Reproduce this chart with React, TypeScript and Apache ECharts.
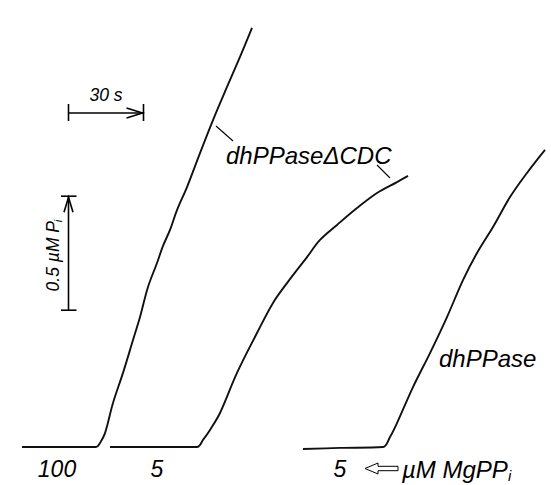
import React, { useEffect, useRef } from "react";
import * as echarts from "echarts";

// time (s) and product (µM Pi)
const T_CDC100 = [0.8, 30.4, 32, 34, 37.2, 41.2, 45.2, 48, 51.2, 54.8, 57.2, 60, 62.8, 66.8, 72, 77.2, 82.8, 88, 92.8];
const P_CDC100 = [0, 0, 0.018, 0.061, 0.193, 0.325, 0.469, 0.57, 0.702, 0.807, 0.882, 0.952, 1.039, 1.14, 1.289, 1.434, 1.579, 1.711, 1.838];

const T_CDC5 = [36, 70.8, 73.2, 76, 80, 86.8, 94.8, 101.2, 106.8, 114.8, 120, 126.8, 134.8, 142.8, 150.8, 155.2];
const P_CDC5 = [0, 0, 0.031, 0.075, 0.149, 0.325, 0.5, 0.632, 0.719, 0.833, 0.908, 0.974, 1.048, 1.114, 1.162, 1.189];

const T_WT5 = [113.2, 128, 145.2, 148, 150.8, 157.2, 164, 170.8, 177.2, 182.8, 189.2, 196, 202.8, 210];
const P_WT5 = [-0.009, -0.004, 0, 0.044, 0.105, 0.263, 0.412, 0.57, 0.732, 0.851, 0.965, 1.096, 1.202, 1.303];

// scale bars (data units)
const SCALE_T0 = 19.4;
const SCALE_T_LEN = 30;
const SCALE_H_Y = 1.465;
const SCALE_V_Y0 = 0.6;
const SCALE_V_LEN = 0.5;

const CONC_LABELS = ["100", "5", "5"];
const CURVE_NAMES = ["dhPPase\u0394CDC", "dhPPase"];

const FONT = '"Liberation Sans", Arial, Helvetica, sans-serif';

export default function App() {
  const ref = useRef<HTMLDivElement>(null);
  useEffect(() => {
    const chart = echarts.init(ref.current!, null, { renderer: "svg" });
    const zip = (t: number[], p: number[]) => t.map((v, i) => [v, p[i]]);
    const line = (name: string, data: number[][]) => ({
      type: "line",
      name,
      data,
      showSymbol: false,
      symbol: "none",
      smooth: 0.35,
      lineStyle: { color: "#111", width: 1.9 },
      silent: true,
    });
    chart.setOption({
      animation: false,
      backgroundColor: "#fff",
      grid: { left: 20, right: 6, top: 13.8, bottom: 26.6 },
      xAxis: { type: "value", min: 0, max: 210, show: false },
      yAxis: { type: "value", min: -0.05, max: 1.9, show: false },
      series: [
        line("CDC100", zip(T_CDC100, P_CDC100)),
        line("CDC5", zip(T_CDC5, P_CDC5)),
        line("WT5", zip(T_WT5, P_WT5)),
      ],
    });

    const px = (t: number, y: number) => chart.convertToPixel({ gridIndex: 0 }, [t, y]) as number[];
    const stroke = { stroke: "#000", lineWidth: 1.6, fill: null };
    const h0 = px(SCALE_T0, SCALE_H_Y);
    const h1 = px(SCALE_T0 + SCALE_T_LEN, SCALE_H_Y);
    const v0 = px(SCALE_T0, SCALE_V_Y0);
    const v1 = px(SCALE_T0, SCALE_V_Y0 + SCALE_V_LEN);
    const txt = (x: number, y: number, text: string, size: number, align = "left", extra: any = {}) => ({
      type: "text",
      x,
      y,
      style: {
        text,
        fontSize: size,
        fontStyle: "italic",
        fontFamily: FONT,
        fill: "#000",
        align,
        verticalAlign: "middle",
      },
      ...extra,
    });

    chart.setOption({
      graphic: [
        // horizontal scale bar (30 s)
        { type: "line", shape: { x1: h0[0], y1: h0[1], x2: h1[0], y2: h1[1] }, style: stroke },
        { type: "line", shape: { x1: h0[0], y1: h0[1] - 9, x2: h0[0], y2: h0[1] + 8 }, style: stroke },
        { type: "line", shape: { x1: h1[0], y1: h1[1] - 9, x2: h1[0], y2: h1[1] + 8 }, style: stroke },
        {
          type: "polyline",
          shape: { points: [[h1[0] - 17, h1[1] - 5], [h1[0] - 1, h1[1]], [h1[0] - 17, h1[1] + 5]] },
          style: stroke,
        },
        txt((h0[0] + h1[0]) / 2, h0[1] - 17.5, "30 s", 17.5, "center"),
        // vertical scale bar (0.5 µM Pi)
        { type: "line", shape: { x1: v0[0], y1: v0[1], x2: v1[0], y2: v1[1] }, style: stroke },
        { type: "line", shape: { x1: v0[0] - 7.5, y1: v0[1], x2: v0[0] + 8, y2: v0[1] }, style: stroke },
        { type: "line", shape: { x1: v1[0] - 7.5, y1: v1[1], x2: v1[0] + 8, y2: v1[1] }, style: stroke },
        {
          type: "polyline",
          shape: { points: [[v1[0] - 4.5, v1[1] + 16], [v1[0], v1[1] + 1], [v1[0] + 4.5, v1[1] + 16]] },
          style: stroke,
        },
        {
          type: "group",
          x: v0[0] - 16,
          y: (v0[1] + v1[1]) / 2 + 3,
          rotation: Math.PI / 2,
          children: [
            txt(0, 0, "0.5 \u00b5M P", 17.5, "center"),
            txt(34, 5, "i", 11.5, "left"),
          ],
        },
        // curve names and leaders
        txt(226, 155, CURVE_NAMES[0], 24, "left"),
        { type: "line", shape: { x1: 216, y1: 126, x2: 233, y2: 141 }, style: { stroke: "#000", lineWidth: 1.1 } },
        { type: "line", shape: { x1: 377, y1: 165, x2: 390, y2: 178 }, style: { stroke: "#000", lineWidth: 1.1 } },
        txt(439, 358, CURVE_NAMES[1], 24, "left"),
        // concentration labels
        txt(57, 469, CONC_LABELS[0], 23, "center"),
        txt(157, 469, CONC_LABELS[1], 23, "center"),
        txt(340, 469, CONC_LABELS[2], 23, "center"),
        {
          type: "polygon",
          shape: {
            points: [
              [365, 468.5], [378, 463], [378, 466.3], [398, 466.3], [398, 470.7], [378, 470.7], [378, 474],
            ],
          },
          style: { stroke: "#000", lineWidth: 1, fill: "#fff" },
        },
        txt(402, 469.5, "\u00b5M MgPP", 24, "left"),
        txt(508, 475, "i", 15, "left"),
      ],
    });
    return () => chart.dispose();
  }, []);
  return <div ref={ref} style={{ position: "fixed", left: 0, top: 0, width: 551, height: 485 }} />;
}
